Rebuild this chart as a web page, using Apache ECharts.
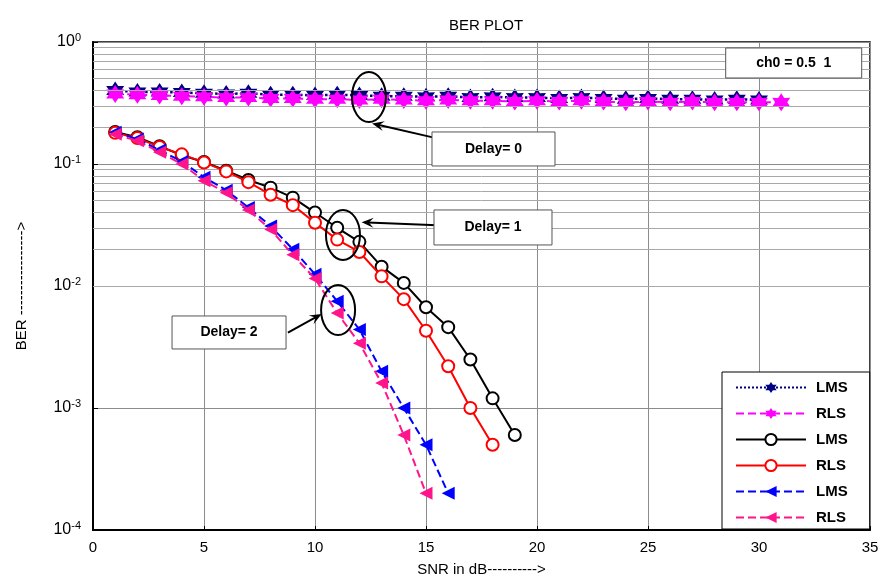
<!DOCTYPE html>
<html>
<head>
    <meta charset="utf-8">
    <title>BER PLOT</title>
    <script src="https://cdn.jsdelivr.net/npm/echarts@6/dist/echarts.min.js"></script>
    <style>
        html, body { margin: 0; padding: 0; background: #fff; }
        #chart1 { width: 882px; height: 583px; }
    </style>
</head>
<body>
<div id="chart1"></div>
<script>
    // 数据：SNR (dB) 与各条曲线的误码率
    var snrDelay0Lms = [1,2,3,4,5,6,7,8,9,10,11,12,13,14,15,16,17,18,19,20,21,22,23,24,25,26,27,28,29,30];
    var berDelay0Lms = [0.40,0.39,0.39,0.385,0.38,0.375,0.38,0.37,0.37,0.365,0.37,0.365,0.36,0.36,0.355,0.36,0.35,0.355,0.35,0.35,0.345,0.35,0.345,0.34,0.345,0.34,0.34,0.335,0.34,0.335];
    var snrDelay0Rls = [1,2,3,4,5,6,7,8,9,10,11,12,13,14,15,16,17,18,19,20,21,22,23,24,25,26,27,28,29,30,31];
    var berDelay0Rls = [0.375,0.37,0.365,0.36,0.355,0.35,0.35,0.345,0.345,0.34,0.34,0.335,0.34,0.335,0.33,0.335,0.33,0.33,0.325,0.33,0.325,0.33,0.325,0.32,0.325,0.32,0.325,0.32,0.32,0.32,0.32];
    var snrDelay1Lms = [1,2,3,4,5,6,7,8,9,10,11,12,13,14,15,16,17,18,19];
    var berDelay1Lms = [0.183,0.166,0.14,0.118,0.104,0.088,0.074,0.064,0.053,0.040,0.030,0.023,0.0144,0.0106,0.0067,0.0046,0.0025,0.0012,0.0006];
    var snrDelay1Rls = [1,2,3,4,5,6,7,8,9,10,11,12,13,14,15,16,17,18];
    var berDelay1Rls = [0.18,0.163,0.138,0.12,0.103,0.087,0.071,0.056,0.046,0.033,0.024,0.019,0.012,0.0078,0.0043,0.0022,0.001,0.0005];
    var snrDelay2Lms = [1,2,3,4,5,6,7,8,9,10,11,12,13,14,15,16];
    var berDelay2Lms = [0.182,0.16,0.13,0.105,0.078,0.061,0.044,0.031,0.020,0.0125,0.0075,0.0044,0.002,0.001,0.0005,0.0002];
    var snrDelay2Rls = [1,2,3,4,5,6,7,8,9,10,11,12,13,14,15];
    var berDelay2Rls = [0.175,0.155,0.125,0.100,0.073,0.058,0.042,0.029,0.018,0.0115,0.006,0.0034,0.0016,0.0006,0.0002];

    // 图例名称（同名曲线用尾随空格区分）
    var legendNames = ['LMS', 'RLS', 'LMS ', 'RLS ', 'LMS  ', 'RLS  '];

    // 对数轴次网格线
    var yMinorLines = [];
    [0.0001, 0.001, 0.01, 0.1].forEach(function (d) {
        for (var k = 2; k <= 9; k++) yMinorLines.push(+(d * k).toPrecision(3));
    });

    // 注释：椭圆、箭头、文本框（数据坐标）
    var ellipses = [[12.43, 0.354], [11.26, 0.0262], [11.04, 0.00635]];
    var arrows = [[[15.45, 0.163], [12.57, 0.215]], [[15.5, 0.0315], [12.1, 0.0333]], [[8.78, 0.00414], [10.3, 0.0059]]];
    var boxes = [
        {pos: [15.27, 0.183], text: 'Delay= 0', w: 123, h: 34},
        {pos: [15.36, 0.042], text: 'Delay= 1', w: 118, h: 35},
        {pos: [3.56, 0.00568], text: 'Delay= 2', w: 114, h: 33},
        {pos: [28.5, 0.893], text: 'ch0 = 0.5  1', w: 136, h: 30}
    ];

    function pairs(xs, ys) {
        return xs.map(function (x, i) { return [x, ys[i]]; });
    }

    // 六角星形标记
    function hexagram() {
        var p = [];
        for (var i = 0; i < 12; i++) {
            var r = i % 2 ? 0.577 : 1;
            var a = -Math.PI / 2 + i * Math.PI / 6;
            p.push((50 + 50 * r * Math.cos(a)).toFixed(2) + ' ' + (50 + 50 * r * Math.sin(a)).toFixed(2));
        }
        return 'path://M' + p.join(' L') + ' Z';
    }
    var star = hexagram();

    var myChart1 = echarts.init(document.getElementById('chart1'));
    var FONT = '"Liberation Sans", Arial, sans-serif';

    var option = {
        animation: false,
        title: {
            text: 'BER PLOT',
            left: 481, textAlign: 'center', top: 13,
            textStyle: {fontFamily: FONT, fontSize: 15, fontWeight: 'normal', color: '#000'}
        },
        grid: {left: 93, right: 12, top: 42, bottom: 53, show: true, borderColor: '#000', borderWidth: 1.5, backgroundColor: '#fff'},
        legend: {
            data: legendNames,
            left: 722, top: 372, orient: 'vertical',
            backgroundColor: '#fff', borderColor: '#000', borderWidth: 1,
            padding: [8, 22, 4, 13],
            itemWidth: 70, itemHeight: 14, itemGap: 11,
            formatter: function (n) { return n.trim(); },
            textStyle: {fontFamily: FONT, fontSize: 15, lineHeight: 14, fontWeight: 'bold', color: '#000', padding: [0, 0, 0, 5]}
        },
        xAxis: {
            type: 'value', min: 0, max: 35, interval: 5,
            name: 'SNR in dB---------->', nameLocation: 'middle', nameGap: 32,
            nameTextStyle: {fontFamily: FONT, fontSize: 15, color: '#000'},
            axisLine: {lineStyle: {color: '#000', width: 2}},
            axisTick: {inside: true, length: 4, lineStyle: {color: '#000'}},
            axisLabel: {fontFamily: FONT, fontSize: 15, color: '#000', margin: 10},
            splitLine: {show: true, lineStyle: {color: '#8c8c8c', width: 1}}
        },
        yAxis: {
            type: 'log', logBase: 10, min: 0.0001, max: 1,
            name: 'BER ----------------->', nameLocation: 'middle', nameGap: 64, nameRotate: 90,
            nameTextStyle: {fontFamily: FONT, fontSize: 15, color: '#000'},
            axisLine: {show: true, lineStyle: {color: '#000', width: 2}},
            axisTick: {inside: true, length: 5, lineStyle: {color: '#000'}},
            axisLabel: {
                margin: 12,
                formatter: function (v) {
                    var e = Math.round(Math.log10(v));
                    return '{b|10}{s|' + e + '}';
                },
                rich: {
                    b: {fontFamily: FONT, fontSize: 16, color: '#000', lineHeight: 20},
                    s: {fontFamily: FONT, fontSize: 11, color: '#000', verticalAlign: 'top', lineHeight: 20, padding: [0, 0, 8, 0]}
                }
            },
            splitLine: {show: true, lineStyle: {color: '#8c8c8c', width: 1}}
        },
        series: [
            {
                name: legendNames[0], type: 'line', data: pairs(snrDelay0Lms, berDelay0Lms),
                lineStyle: {color: '#000080', width: 2.5, type: 'dotted'},
                symbol: star, symbolSize: 18, itemStyle: {color: '#000080'}, z: 3
            },
            {
                name: legendNames[1], type: 'line', data: pairs(snrDelay0Rls, berDelay0Rls),
                lineStyle: {color: '#ff00ff', width: 2, type: 'dashed'},
                symbol: star, symbolSize: 18, itemStyle: {color: '#ff00ff'}, z: 4
            },
            {
                name: legendNames[2], type: 'line', data: pairs(snrDelay1Lms, berDelay1Lms),
                lineStyle: {color: '#000', width: 2},
                symbol: 'emptyCircle', symbolSize: 12,
                itemStyle: {color: '#000', borderColor: '#000', borderWidth: 2.5}, z: 5
            },
            {
                name: legendNames[3], type: 'line', data: pairs(snrDelay1Rls, berDelay1Rls),
                lineStyle: {color: '#ff0000', width: 2},
                symbol: 'emptyCircle', symbolSize: 12,
                itemStyle: {color: '#ff0000', borderColor: '#ff0000', borderWidth: 2.5}, z: 6
            },
            {
                name: legendNames[4], type: 'line', data: pairs(snrDelay2Lms, berDelay2Lms),
                lineStyle: {color: '#0000ff', width: 2, type: 'dashed'},
                symbol: 'triangle', symbolRotate: 90, symbolSize: 13, itemStyle: {color: '#0000ff'}, z: 7
            },
            {
                name: legendNames[5], type: 'line', data: pairs(snrDelay2Rls, berDelay2Rls),
                lineStyle: {color: '#ff148c', width: 2, type: 'dashed'},
                symbol: 'triangle', symbolRotate: 90, symbolSize: 13, itemStyle: {color: '#ff148c'}, z: 8
            },
            {
                name: 'minorGrid', type: 'line', data: [], silent: true, z: 1,
                markLine: {
                    silent: true, symbol: ['none', 'none'], label: {show: false},
                    lineStyle: {color: '#a8a8a8', width: 1, type: 'solid'},
                    data: yMinorLines.map(function (v) { return {yAxis: v}; })
                }
            }
        ]
    };
    myChart1.setOption(option);

    // 注释元素通过数据坐标换算
    function px(p) { return myChart1.convertToPixel({gridIndex: 0}, p); }
    var graphics = [];
    ellipses.forEach(function (c) {
        var p = px(c);
        graphics.push({
            type: 'ellipse', z: 100,
            shape: {cx: p[0], cy: p[1], rx: 17, ry: 25},
            style: {fill: 'none', stroke: '#000', lineWidth: 2}
        });
    });
    arrows.forEach(function (a) {
        var p0 = px(a[0]), p1 = px(a[1]);
        var dx = p1[0] - p0[0], dy = p1[1] - p0[1], len = Math.sqrt(dx * dx + dy * dy);
        var ux = dx / len, uy = dy / len, hl = 12, hw = 5;
        graphics.push({
            type: 'line', z: 100,
            shape: {x1: p0[0], y1: p0[1], x2: p1[0] - ux * 6, y2: p1[1] - uy * 6},
            style: {stroke: '#000', lineWidth: 2}
        });
        graphics.push({
            type: 'polygon', z: 100,
            shape: {points: [
                [p1[0], p1[1]],
                [p1[0] - ux * hl - uy * hw, p1[1] - uy * hl + ux * hw],
                [p1[0] - ux * hl * 0.6, p1[1] - uy * hl * 0.6],
                [p1[0] - ux * hl + uy * hw, p1[1] - uy * hl - ux * hw]
            ]},
            style: {fill: '#000'}
        });
    });
    boxes.forEach(function (b) {
        var p = px(b.pos);
        graphics.push({
            type: 'rect', z: 100,
            shape: {x: p[0], y: p[1], width: b.w, height: b.h},
            style: {fill: '#fff', stroke: '#555', lineWidth: 1}
        });
        graphics.push({
            type: 'text', z: 101,
            x: p[0] + b.w / 2, y: p[1] + b.h / 2,
            style: {text: b.text, fontFamily: FONT, fontSize: 14, fontWeight: 'bold', fill: '#000', align: 'center', verticalAlign: 'middle'}
        });
    });
    myChart1.setOption({graphic: graphics});
</script>
</body>
</html>
